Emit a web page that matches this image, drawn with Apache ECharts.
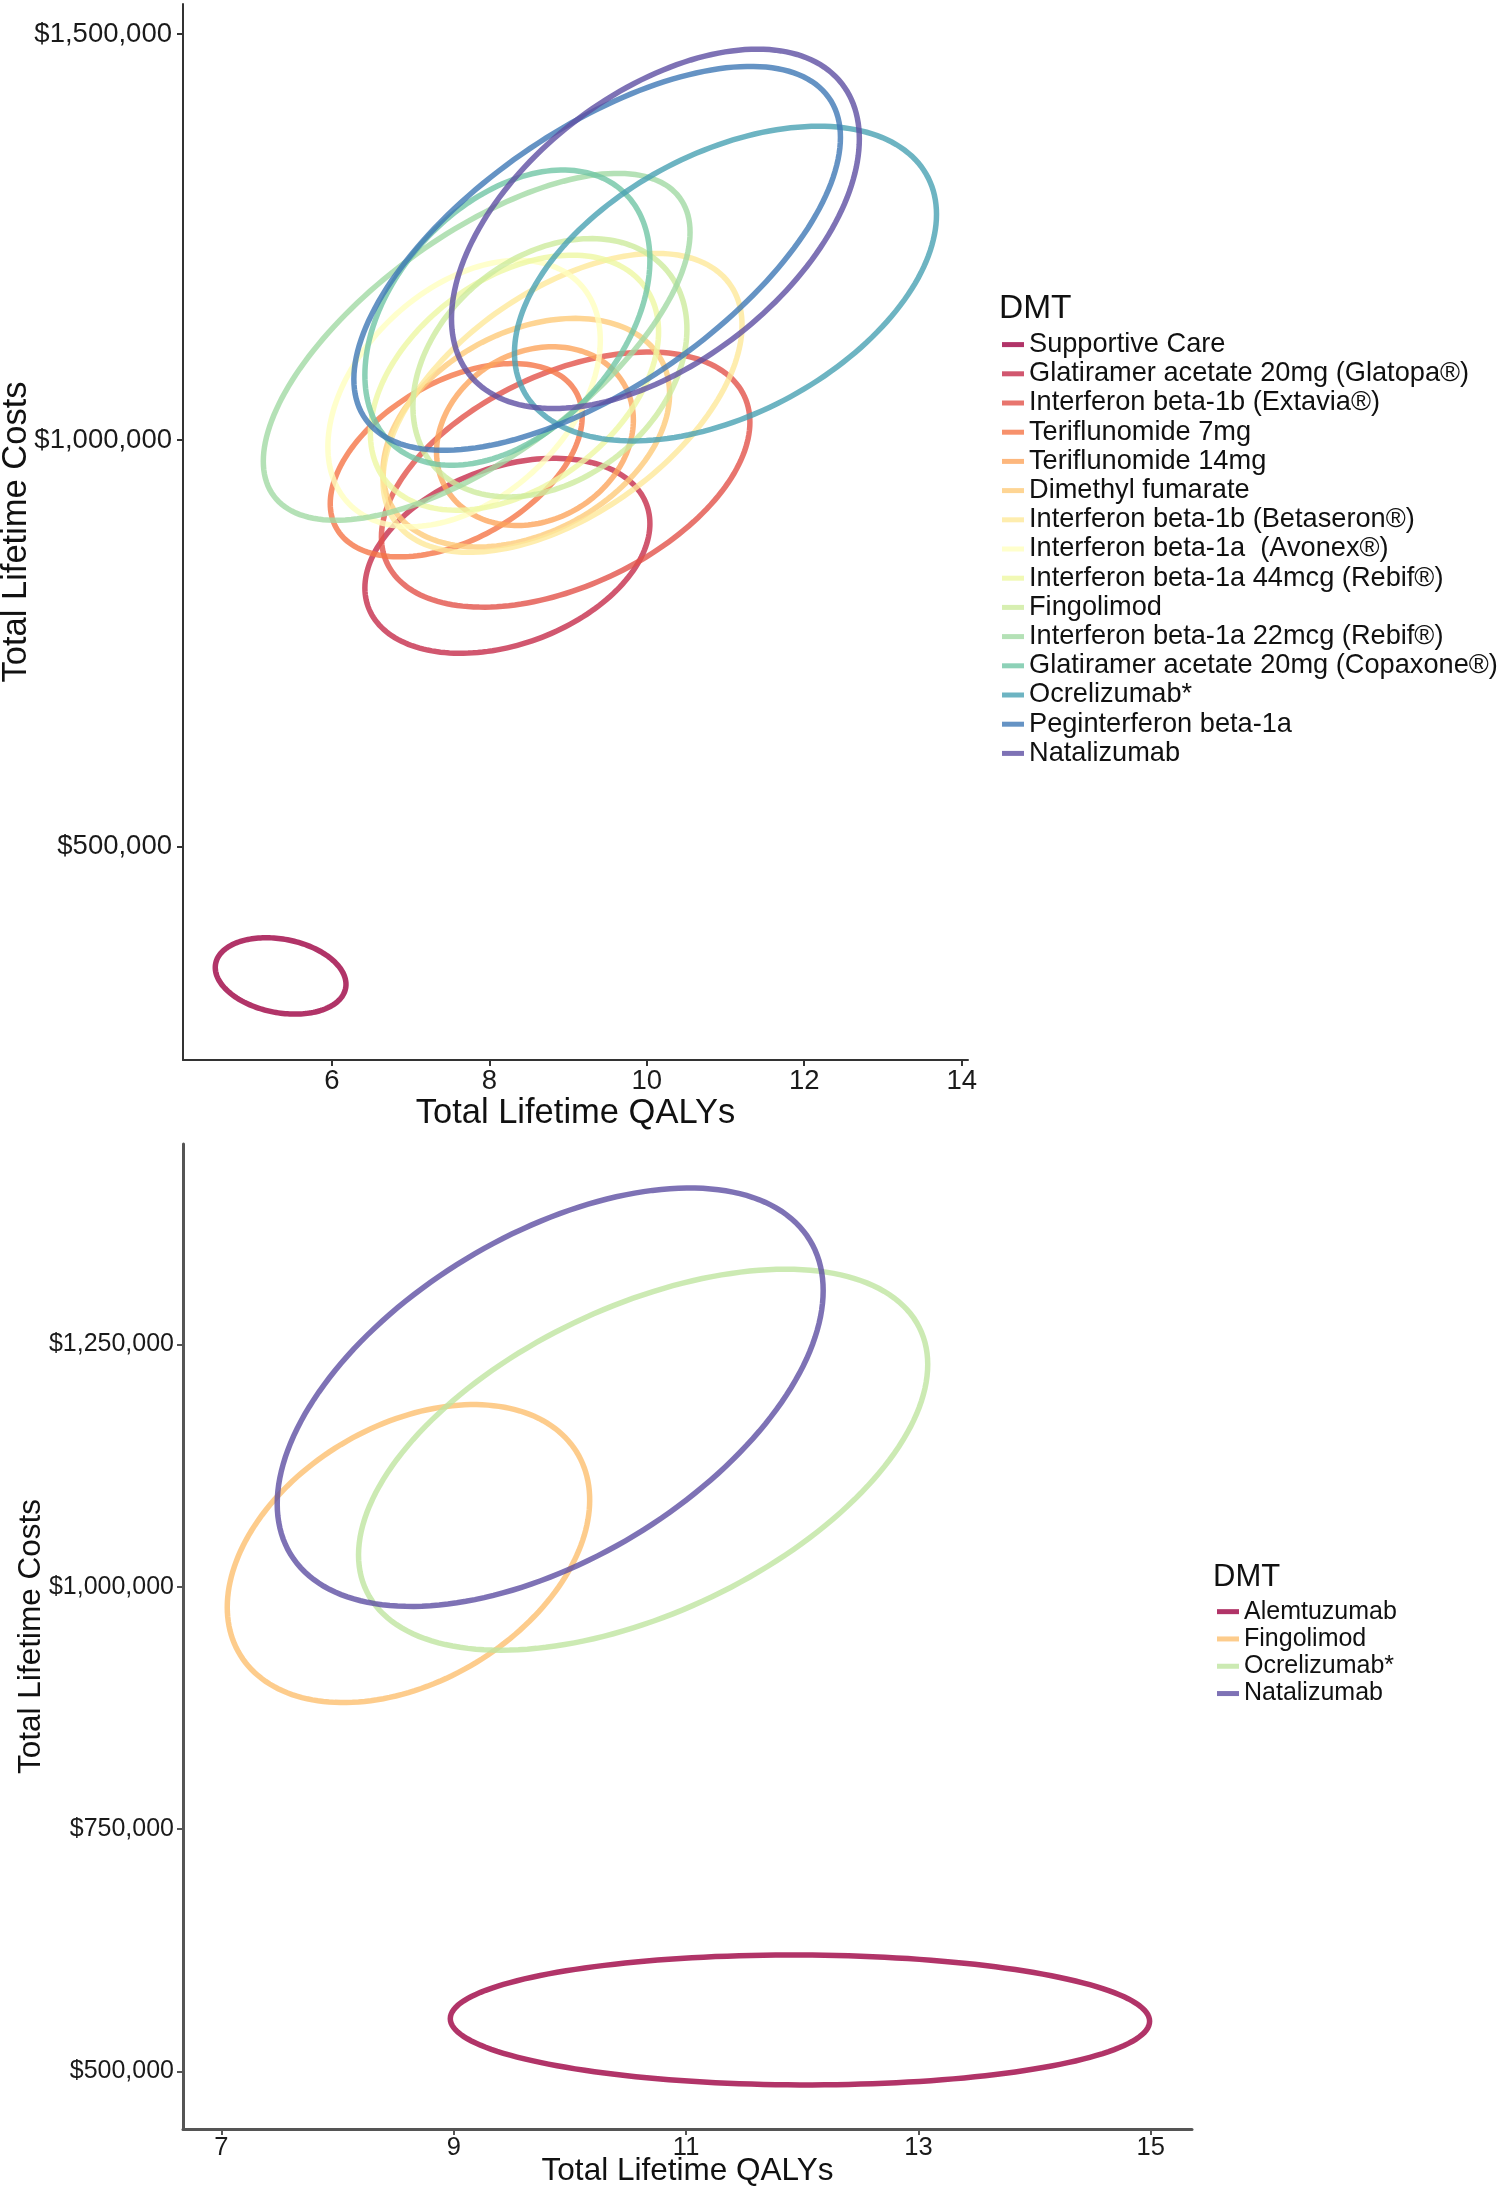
<!DOCTYPE html>
<html>
<head>
<meta charset="utf-8">
<script src="https://cdn.jsdelivr.net/npm/echarts@6/dist/echarts.min.js"></script>
<style>
  html, body { margin: 0; padding: 0; background: #fff; }
  #topChart { width: 1500px; height: 1130px; }
  #bottomChart { width: 1500px; height: 1057px; }
</style>
</head>
<body>
<div id="topChart"></div>
<div id="bottomChart"></div>
<script>
// upper panel: one ellipse per DMT (centre, half-widths, correlation)
const dmtTop = [
    'Supportive Care', 'Glatiramer acetate 20mg (Glatopa®)', 'Interferon beta-1b (Extavia®)',
    'Teriflunomide 7mg', 'Teriflunomide 14mg', 'Dimethyl fumarate', 'Interferon beta-1b (Betaseron®)',
    'Interferon beta-1a  (Avonex®)', 'Interferon beta-1a 44mcg (Rebif®)', 'Fingolimod',
    'Interferon beta-1a 22mcg (Rebif®)', 'Glatiramer acetate 20mg (Copaxone®)', 'Ocrelizumab*',
    'Peginterferon beta-1a', 'Natalizumab'
];
const qalyTop = [5.35, 8.23, 8.97, 7.58, 8.58, 8.47, 8.93, 7.68, 8.32, 8.77, 7.84, 8.23, 11.0, 9.37, 10.11];
const costTop = [340500, 857700, 951500, 975400, 1005000, 1009300, 1046000, 1057500, 1070800, 1089200, 1115000, 1150900, 1192800, 1223900, 1260200];
const qalySpreadTop = [0.83, 1.81, 2.34, 1.60, 1.25, 1.82, 2.28, 1.73, 1.83, 1.74, 2.71, 1.81, 2.68, 3.09, 2.59];
const costSpreadTop = [47000, 120000, 157000, 119000, 110000, 140700, 184000, 164000, 157000, 159000, 213500, 181700, 193700, 236300, 221200];
const corrTop = [-0.22, 0.33, 0.45, 0.45, 0.18, 0.34, 0.52, 0.40, 0.40, 0.30, 0.66, 0.39, 0.44, 0.63, 0.50];
const colorsTop = ['#9E0142', '#C52D4B', '#E2524A', '#F57647', '#FCA55D', '#FECB79', '#FEE99A', '#FFFFBF',
    '#EDF8A3', '#CDEB9D', '#A1D9A4', '#70C6A5', '#48A1B3', '#3F78B5', '#5E4FA2'];
const xTicksTop = [6, 8, 10, 12, 14];
const yTicksTop = [500000, 1000000, 1500000];

// lower panel
const dmtBottom = ['Alemtuzumab', 'Fingolimod', 'Ocrelizumab*', 'Natalizumab'];
const qalyBottom = [11.98, 8.61, 10.63, 9.83];
const costBottom = [553100, 1034200, 1131000, 1195500];
const qalySpreadBottom = [3.01, 1.56, 2.45, 2.35];
const costSpreadBottom = [67000, 153700, 196500, 215800];
const corrBottom = [-0.02, 0.36, 0.50, 0.51];
const colorsBottom = ['#9E0142', '#FDBF6F', '#BFE5A0', '#5E4FA2'];
const xTicksBottom = [7, 9, 11, 13, 15];
const yTicksBottom = [500000, 750000, 1000000, 1250000];

const FONT = "'Liberation Sans', Arial, Helvetica, sans-serif";
const money = v => '$' + Math.round(v).toLocaleString('en-US');

// ellipse outline drawn through the axes: x = cx + rx cos t, y = cy + ry cos(t - acos(rho))
function renderEllipse(params, api) {
    let cx = api.value(0), cy = api.value(1), rx = api.value(2), ry = api.value(3), rho = api.value(4);
    let phi = Math.acos(rho);
    let pts = [];
    for (let i = 0; i <= 180; i++) {
        let t = i / 180 * Math.PI * 2;
        pts.push(api.coord([cx + rx * Math.cos(t), cy + ry * Math.cos(t - phi)]));
    }
    return {
        type: 'polygon',
        shape: { points: pts },
        style: { fill: null, stroke: api.visual('color'), lineWidth: 5.5, opacity: 0.8 }
    };
}

function axisCommon(ticks, fontSize, lineColor, lineWidth) {
    return {
        type: 'value',
        splitLine: { show: false },
        axisLine: { show: true, onZero: false, lineStyle: { color: lineColor, width: lineWidth } },
        axisTick: { show: true, customValues: ticks, length: 6, lineStyle: { color: lineColor, width: 2 } },
        axisLabel: { customValues: ticks, fontFamily: FONT, fontSize: fontSize, color: '#1a1a1a' },
        nameLocation: 'middle',
        nameMoveOverlap: false,
        nameTextStyle: { fontFamily: FONT, color: '#111' }
    };
}

let Panels = {
    init() {
        this.top();
        this.bottom();
    },
    build(names, xs, ys, rxs, rys, rhos, colors) {
        return names.map((name, i) => ({
            type: 'custom',
            name: name,
            renderItem: renderEllipse,
            itemStyle: { color: colors[i], opacity: 0.8 },
            encode: { x: 0, y: 1 },
            silent: true,
            data: [[xs[i], ys[i], rxs[i], rys[i], rhos[i]]]
        }));
    },
    // 15 DMTs
    top() {
        let chart = echarts.init(document.getElementById('topChart'));
        let xAxis = axisCommon(xTicksTop, 27.5, '#333', 2);
        let yAxis = axisCommon(yTicksTop, 27.5, '#333', 2);
        chart.setOption({
            animation: false,
            grid: { left: 183, top: 4, width: 785, height: 1056, outerBoundsMode: 'none', containLabel: false },
            title: {
                text: 'DMT', left: 999, top: 292, padding: 0,
                textStyle: { fontFamily: FONT, fontSize: 33.5, fontWeight: 'normal', color: '#111' }
            },
            legend: {
                orient: 'vertical', left: 1002, top: 330, padding: 0,
                icon: 'rect', itemWidth: 22, itemHeight: 5, itemGap: 0,
                selectedMode: false,
                textStyle: { fontFamily: FONT, fontSize: 27.2, lineHeight: 29.2, color: '#111' },
                data: dmtTop
            },
            xAxis: Object.assign(xAxis, {
                min: 4.11, max: 14.08,
                name: 'Total Lifetime QALYs', nameGap: 36,
                nameTextStyle: { fontFamily: FONT, fontSize: 34.5, color: '#111' },
                axisLabel: Object.assign(xAxis.axisLabel, { margin: 7 })
            }),
            yAxis: Object.assign(yAxis, {
                min: 237000, max: 1537000,
                name: 'Total Lifetime Costs', nameGap: 149,
                nameTextStyle: { fontFamily: FONT, fontSize: 34.5, color: '#111' },
                axisLabel: Object.assign(yAxis.axisLabel, { margin: 11, formatter: money })
            }),
            series: this.build(dmtTop, qalyTop, costTop, qalySpreadTop, costSpreadTop, corrTop, colorsTop)
        });
    },
    // 4 DMTs
    bottom() {
        let chart = echarts.init(document.getElementById('bottomChart'));
        let xAxis = axisCommon(xTicksBottom, 25.5, '#555', 3);
        let yAxis = axisCommon(yTicksBottom, 25, '#555', 3);
        chart.setOption({
            animation: false,
            grid: { left: 183, top: 14, width: 1009, height: 985, outerBoundsMode: 'none', containLabel: false },
            title: {
                text: 'DMT', left: 1213, top: 432, padding: 0,
                textStyle: { fontFamily: FONT, fontSize: 31, fontWeight: 'normal', color: '#111' }
            },
            legend: {
                orient: 'vertical', left: 1217, top: 468, padding: 0,
                icon: 'rect', itemWidth: 22, itemHeight: 5, itemGap: 0,
                selectedMode: false,
                textStyle: { fontFamily: FONT, fontSize: 25, lineHeight: 27.3, color: '#111' },
                data: dmtBottom
            },
            xAxis: Object.assign(xAxis, {
                min: 6.669, max: 15.355,
                name: 'Total Lifetime QALYs', nameGap: 26,
                nameTextStyle: { fontFamily: FONT, fontSize: 31.5, color: '#111' },
                axisLabel: Object.assign(xAxis.axisLabel, { margin: 6 })
            }),
            yAxis: Object.assign(yAxis, {
                min: 440600, max: 1456700,
                name: 'Total Lifetime Costs', nameGap: 136,
                nameTextStyle: { fontFamily: FONT, fontSize: 31.5, color: '#111' },
                axisLabel: Object.assign(yAxis.axisLabel, { margin: 9, formatter: money })
            }),
            series: this.build(dmtBottom, qalyBottom, costBottom, qalySpreadBottom, costSpreadBottom, corrBottom, colorsBottom)
        });
    }
};
Panels.init();
</script>
</body>
</html>
